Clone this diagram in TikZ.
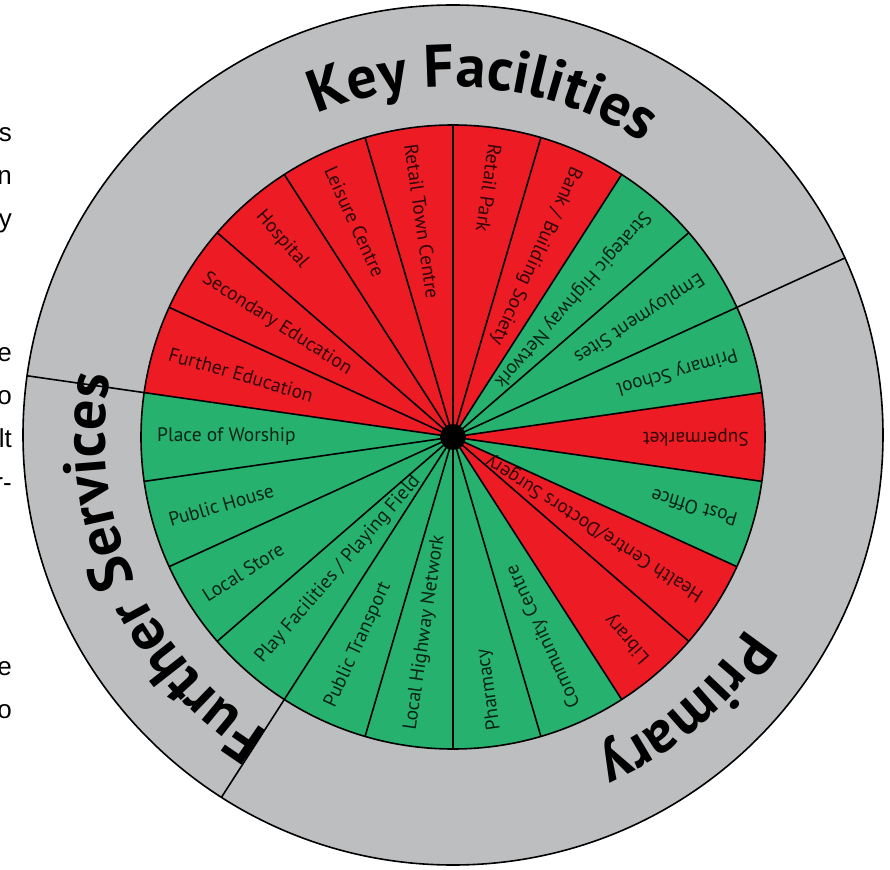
\documentclass[tikz,border=0pt]{standalone}
\usepackage{fontspec}
\setmainfont{PT Sans}
\newfontfamily\sidefont{Liberation Sans}
\usetikzlibrary{decorations.text}
\definecolor{segred}{RGB}{237,28,36}
\definecolor{seggreen}{RGB}{38,178,110}
\definecolor{ringgrey}{RGB}{189,190,192}
\newcommand\titlefont{\fontsize{60}{60}\selectfont\bfseries}
\newcommand\mkseg[3]{%
  \pgfmathsetmacro\segA{90-#1*16.363636}%
  \pgfmathsetmacro\segB{\segA-16.363636}%
  \pgfmathsetmacro\segM{\segA-8.181818}%
  \pgfmathsetmacro\segR{\segM+180}%
  \fill[#2] (0,0) -- (\segA:312) arc[start angle=\segA, end angle=\segB, radius=312] -- cycle;
  \node[seglabel, rotate=\segR] (lab#1) at (\segM:296) {#3};
}
\begin{document}
\begin{tikzpicture}[x=1pt,y=1pt,
  seglabel/.style={anchor=west, inner sep=0pt, font=\fontsize{19.5}{20}\selectfont, text=black, text opacity=0.8},
  spoke/.style={line width=1.6pt, black},
  rim/.style={line width=1.6pt, black},
  sidetext/.style={anchor=base east, inner sep=0pt, font=\sidefont\fontsize{26}{26}\selectfont, text=black}]
\useasboundingbox (-453,-432) rectangle (437,437);
% outer grey ring
\fill[ringgrey] (0,2) circle[radius=430];
\begin{scope}
  \clip (0,2) circle[radius=430];
  \foreach \a in {24.545, 171.818, 237.273} \draw[spoke] (\a:312) -- (\a:440);
\end{scope}
\draw[rim] (0,2) circle[radius=430];
% segments
\mkseg{0}{segred}{Retail Park}
\mkseg{1}{segred}{Bank / Building Society}
\mkseg{2}{seggreen}{Strategic Highway Network}
\mkseg{3}{seggreen}{Employment Sites}
\mkseg{4}{seggreen}{Primary School}
\mkseg{5}{segred}{Supermarket}
\mkseg{6}{seggreen}{Post Office}
\mkseg{7}{segred}{Health Centre/Doctors Surgery}
\mkseg{8}{segred}{Library}
\mkseg{9}{seggreen}{Community Centre}
\mkseg{10}{seggreen}{Pharmacy}
\mkseg{11}{seggreen}{Local Highway Network}
\mkseg{12}{seggreen}{Public Transport}
\mkseg{13}{seggreen}{Play Facilities / Playing Field}
\mkseg{14}{seggreen}{Local Store}
\mkseg{15}{seggreen}{Public House}
\mkseg{16}{seggreen}{Place of Worship}
\mkseg{17}{segred}{Further Education}
\mkseg{18}{segred}{Secondary Education}
\mkseg{19}{segred}{Hospital}
\mkseg{20}{segred}{Leisure Centre}
\mkseg{21}{segred}{Retail Town Centre}
\foreach \k in {0,...,21}{
  \pgfmathsetmacro\segA{90-\k*16.363636}
  \draw[spoke] (0,0) -- (\segA:312);
}
\draw[rim] (0,0) circle[radius=312];
\fill[black] (0,0) circle[radius=13];
% titles
\path[decorate, decoration={text along path, text align=center, text={|\titlefont|Key Facilities}}]
  (130:350) arc[start angle=130, end angle=40, radius=350];
\path[decorate, decoration={text along path, text align=center, text={|\titlefont|Further Services}}]
  (249:348) arc[start angle=249, end angle=159, radius=348];
\path[decorate, decoration={text along path, text align=center, text={|\titlefont|Primary}}]
  (-4.5:350) arc[start angle=-4.5, end angle=-94.5, radius=350];
% cut-off text at left edge
\node[sidetext] (t1) at (-441,295) {s};
\node[sidetext] (t2) at (-441,252) {n};
\node[sidetext] (t3) at (-441,209) {y};
\node[sidetext] (t4) at (-441,75) {e};
\node[sidetext] (t5) at (-441,32) {o};
\node[sidetext] (t6) at (-441,-11) {lt};
\node[sidetext] (t7) at (-441,-54) {r-};
\node[sidetext] (t8) at (-441,-238) {e};
\node[sidetext] (t9) at (-441,-281) {o};
\end{tikzpicture}
\end{document}
